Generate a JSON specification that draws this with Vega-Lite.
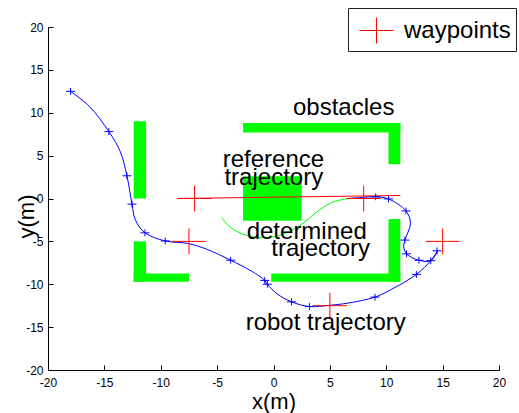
{
  "$schema": "https://vega.github.io/schema/vega-lite/v6.json",
  "width": 451,
  "height": 343,
  "autosize": "none",
  "padding": {"left": 48, "top": 27, "right": 20, "bottom": 43},
  "background": "white",
  "datasets": {
    "obstacles": [
      {"x": -12.4, "x2": -11.3, "y": 0.0, "y2": 9.0},
      {"x": -12.4, "x2": -11.3, "y": -9.7, "y2": -5.0},
      {"x": -12.4, "x2": -7.5, "y": -9.7, "y2": -8.75},
      {"x": -2.7, "x2": 11.25, "y": 7.7, "y2": 8.8},
      {"x": 10.2, "x2": 11.25, "y": 4.0, "y2": 8.8},
      {"x": -2.7, "x2": 2.5, "y": -2.6, "y2": 2.6},
      {"x": 10.2, "x2": 11.25, "y": -9.7, "y2": -2.4},
      {"x": -0.2, "x2": 11.25, "y": -9.7, "y2": -8.75}
    ],
    "determined": [
      {"i": 0, "x": 6.7, "y": 0.0},
      {"i": 1, "x": 5.3, "y": -0.4},
      {"i": 2, "x": 4.1, "y": -1.3},
      {"i": 3, "x": 2.8, "y": -2.7},
      {"i": 4, "x": 1.5, "y": -3.8},
      {"i": 5, "x": 0.1, "y": -4.45},
      {"i": 6, "x": -1.7, "y": -4.5},
      {"i": 7, "x": -3.15, "y": -3.9},
      {"i": 8, "x": -4.05, "y": -3.1},
      {"i": 9, "x": -4.6, "y": -2.2}
    ],
    "reference": [
      {"i": 0, "x": -8.55, "y": 0.0},
      {"i": 1, "x": 11.25, "y": 0.35}
    ],
    "robot": [
      {"seg": "a", "i": 0, "x": -18.0, "y": 12.5},
      {"seg": "a", "i": 1, "x": -16.3, "y": 10.7},
      {"seg": "a", "i": 2, "x": -14.6, "y": 7.8},
      {"seg": "a", "i": 3, "x": -13.6, "y": 5.5},
      {"seg": "a", "i": 4, "x": -13.0, "y": 2.65},
      {"seg": "a", "i": 5, "x": -12.55, "y": -0.66},
      {"seg": "a", "i": 6, "x": -12.25, "y": -2.5},
      {"seg": "a", "i": 7, "x": -11.4, "y": -4.0},
      {"seg": "a", "i": 8, "x": -9.6, "y": -4.95},
      {"seg": "a", "i": 9, "x": -7.55, "y": -5.25},
      {"seg": "a", "i": 10, "x": -5.95, "y": -5.9},
      {"seg": "a", "i": 11, "x": -3.8, "y": -7.2},
      {"seg": "a", "i": 12, "x": -2.1, "y": -8.35},
      {"seg": "a", "i": 13, "x": -1.2, "y": -9.1},
      {"seg": "a", "i": 14, "x": -0.78, "y": -9.55},
      {"seg": "a", "i": 15, "x": -0.55, "y": -10.0},
      {"seg": "a", "i": 16, "x": 0.3, "y": -11.1},
      {"seg": "a", "i": 17, "x": 1.6, "y": -12.05},
      {"seg": "a", "i": 18, "x": 3.2, "y": -12.6},
      {"seg": "a", "i": 19, "x": 5.0, "y": -12.45},
      {"seg": "a", "i": 20, "x": 6.6, "y": -12.2},
      {"seg": "a", "i": 21, "x": 9.0, "y": -11.5},
      {"seg": "a", "i": 22, "x": 10.6, "y": -10.5},
      {"seg": "a", "i": 23, "x": 12.67, "y": -8.85},
      {"seg": "a", "i": 24, "x": 13.95, "y": -7.25},
      {"seg": "a", "i": 25, "x": 14.55, "y": -6.1},
      {"seg": "b", "i": 0, "x": 14.55, "y": -6.1},
      {"seg": "b", "i": 1, "x": 13.95, "y": -7.25},
      {"seg": "b", "i": 2, "x": 12.9, "y": -7.2},
      {"seg": "b", "i": 3, "x": 11.8, "y": -6.45},
      {"seg": "b", "i": 4, "x": 11.55, "y": -5.6},
      {"seg": "b", "i": 5, "x": 11.65, "y": -4.85},
      {"seg": "b", "i": 6, "x": 12.15, "y": -2.9},
      {"seg": "b", "i": 7, "x": 11.75, "y": -1.45},
      {"seg": "b", "i": 8, "x": 10.2, "y": -0.05},
      {"seg": "b", "i": 9, "x": 9.06, "y": 0.2},
      {"seg": "b", "i": 10, "x": 7.8, "y": 0.12},
      {"seg": "b", "i": 11, "x": 6.6, "y": 0.0}
    ],
    "robotMarkers": [
      {"x": -18.0, "y": 12.5}, {"x": -14.6, "y": 7.8}, {"x": -13.0, "y": 2.65},
      {"x": -12.55, "y": -0.66}, {"x": -11.4, "y": -4.0}, {"x": -9.6, "y": -4.95},
      {"x": -3.8, "y": -7.2}, {"x": -0.78, "y": -9.55}, {"x": -0.55, "y": -10.0},
      {"x": 1.6, "y": -12.05}, {"x": 3.2, "y": -12.6}, {"x": 9.0, "y": -11.5},
      {"x": 12.67, "y": -8.85}, {"x": 13.95, "y": -7.25}, {"x": 14.5, "y": -6.1},
      {"x": 12.9, "y": -7.2}, {"x": 11.8, "y": -6.45}, {"x": 11.65, "y": -4.85},
      {"x": 11.75, "y": -1.45}, {"x": 10.2, "y": -0.05}, {"x": 9.06, "y": 0.2}
    ],
    "waypoints": [
      {"x": -7.0, "y": 0.0},
      {"x": -7.5, "y": -5.0},
      {"x": 8.0, "y": 0.0},
      {"x": 15.0, "y": -5.0},
      {"x": 5.0, "y": -12.5}
    ],
    "labels": [
      {"x": 1.73, "y": 9.71, "text": "obstacles"},
      {"x": -4.5, "y": 3.65, "text": "reference"},
      {"x": -4.35, "y": 1.55, "text": "trajectory"},
      {"x": -2.38, "y": -4.78, "text": "determined"},
      {"x": -0.19, "y": -6.73, "text": "trajectory"},
      {"x": -2.47, "y": -15.35, "text": "robot trajectory"}
    ]
  },
  "layer": [
    {
      "data": {"name": "obstacles"},
      "mark": {"type": "rect", "color": "#00ff00", "opacity": 1},
      "encoding": {
        "x": {"field": "x", "type": "quantitative", "title": "x(m)",
              "scale": {"domain": [-20, 20], "nice": false, "zero": false},
              "axis": {"values": [-20, -15, -10, -5, 0, 5, 10, 15, 20]}},
        "x2": {"field": "x2"},
        "y": {"field": "y", "type": "quantitative", "title": "y(m)",
              "scale": {"domain": [-20, 20], "nice": false, "zero": false},
              "axis": {"values": [-20, -15, -10, -5, 0, 5, 10, 15, 20]}},
        "y2": {"field": "y2"}
      }
    },
    {
      "data": {"name": "determined"},
      "mark": {"type": "line", "color": "#00ff00", "strokeWidth": 1, "interpolate": "catmull-rom"},
      "encoding": {
        "x": {"field": "x", "type": "quantitative", "title": "x(m)"},
        "y": {"field": "y", "type": "quantitative", "title": "y(m)"},
        "order": {"field": "i"}
      }
    },
    {
      "data": {"name": "reference"},
      "mark": {"type": "line", "color": "#ff0000", "strokeWidth": 1},
      "encoding": {
        "x": {"field": "x", "type": "quantitative", "title": "x(m)"},
        "y": {"field": "y", "type": "quantitative", "title": "y(m)"},
        "order": {"field": "i"}
      }
    },
    {
      "data": {"name": "robot"},
      "mark": {"type": "line", "color": "#0000ff", "strokeWidth": 1, "interpolate": "catmull-rom"},
      "encoding": {
        "x": {"field": "x", "type": "quantitative", "title": "x(m)"},
        "y": {"field": "y", "type": "quantitative", "title": "y(m)"},
        "detail": {"field": "seg"},
        "order": {"field": "i"}
      }
    },
    {
      "data": {"name": "robotMarkers"},
      "mark": {"type": "point", "shape": "M-1,0H1M0,-0.76V0.76", "size": 81, "filled": false,
               "color": "#0000ff", "strokeWidth": 1, "opacity": 1},
      "encoding": {
        "x": {"field": "x", "type": "quantitative", "title": "x(m)"},
        "y": {"field": "y", "type": "quantitative", "title": "y(m)"}
      }
    },
    {
      "data": {"name": "waypoints"},
      "mark": {"type": "point", "shape": "M-1,0H1M0,-0.76V0.76", "size": 1156, "filled": false,
               "strokeWidth": 1, "opacity": 1},
      "encoding": {
        "x": {"field": "x", "type": "quantitative", "title": "x(m)"},
        "y": {"field": "y", "type": "quantitative", "title": "y(m)"},
        "color": {
          "datum": "waypoints", "type": "nominal",
          "scale": {"range": ["#ff0000"]},
          "legend": {
            "title": null, "orient": "none", "legendX": 300, "legendY": -19,
            "direction": "vertical",
            "symbolType": "M-1,0H1M0,-0.76V0.76", "symbolSize": 1156,
            "symbolStrokeWidth": 1, "symbolStrokeColor": "#ff0000", "symbolFillColor": "transparent",
            "symbolOffset": 6, "padding": 5, "labelOffset": 10,
            "labelFont": "Liberation Sans", "labelFontSize": 24, "labelColor": "black",
            "strokeColor": "#222222", "fillColor": "white", "cornerRadius": 0
          }
        }
      }
    },
    {
      "data": {"name": "labels"},
      "mark": {"type": "text", "align": "left", "baseline": "alphabetic",
               "font": "Liberation Sans", "fontSize": 24, "color": "black"},
      "encoding": {
        "x": {"field": "x", "type": "quantitative", "title": "x(m)"},
        "y": {"field": "y", "type": "quantitative", "title": "y(m)"},
        "text": {"field": "text"}
      }
    }
  ],
  "config": {
    "view": {"stroke": null},
    "axis": {
      "grid": false,
      "domainColor": "black", "domainWidth": 1,
      "tickColor": "black", "tickWidth": 1, "tickSize": -5,
      "labelFont": "Liberation Sans", "labelFontSize": 12, "labelColor": "black",
      "labelPadding": 10,
      "labelExpr": "replace(datum.label, '\u2212', '-')",
      "titleFont": "Liberation Sans", "titleFontSize": 22, "titleFontWeight": "normal", "titleColor": "black"
    },
    "axisX": {"labelFlush": false, "labelPadding": 12, "titleBaseline": "alphabetic", "titleY": 38.5},
    "axisY": {"titleAngle": -90, "titleBaseline": "alphabetic", "titleAlign": "center", "titleX": -15, "titleY": 189}
  }
}
